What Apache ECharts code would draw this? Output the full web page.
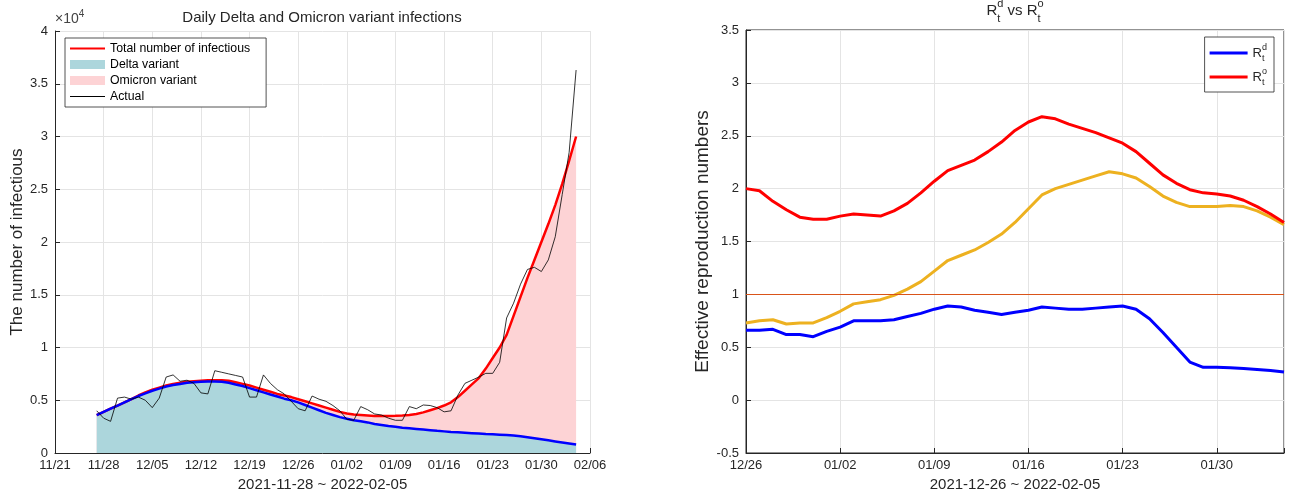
<!DOCTYPE html>
<html><head><meta charset="utf-8">
<script src="https://cdn.jsdelivr.net/npm/echarts@6/dist/echarts.min.js"></script>
<style>html,body{margin:0;padding:0;background:#fff}#c{width:1290px;height:494px}</style>
</head><body><div id="c"></div>
<script>
// ---------- Left chart data (days after 11/21) ----------
const leftTicks = ['11/21','11/28','12/05','12/12','12/19','12/26','01/02','01/09','01/16','01/23','01/30','02/06'];
const leftStartDay = 6;
const totalInfectious = [3600,3900,4200,4500,4800,5100,5450,5750,6000,6200,6400,6550,6650,6750,6800,6850,6900,6900,6900,6850,
  6700,6550,6400,6200,6000,5800,5600,5450,5300,5100,4900,4700,4500,4300,4100,3900,3750,3650,3600,3550,
  3500,3500,3500,3520,3550,3600,3700,3850,4050,4250,4500,4800,5300,5900,6500,7100,8000,9000,10000,11200,
  13000,14800,16600,18300,20000,21700,23500,25500,27700,30000];
const deltaVariant = [3600,3900,4200,4500,4800,5100,5400,5650,5900,6100,6300,6450,6550,6650,6700,6750,6780,6780,6750,6650,
  6500,6350,6150,5950,5750,5550,5350,5150,5000,4800,4550,4300,4050,3800,3600,3400,3250,3100,3000,2900,
  2750,2650,2550,2480,2400,2340,2280,2220,2160,2100,2050,2000,1960,1920,1880,1840,1800,1770,1740,1700,
  1650,1580,1500,1400,1300,1200,1100,1000,900,800];
const actualCases = [4000,3300,3000,5200,5300,5100,5300,5000,4300,5200,7200,7400,6800,6900,6600,5700,5600,7800,7650,7500,
  7350,7200,5300,5300,7400,6600,6000,5600,4900,4200,4000,5400,5100,4900,4500,4000,3200,3100,4400,4100,
  3700,3600,3300,3100,3100,4400,4200,4550,4500,4300,3900,4000,5500,6600,6900,7200,7550,7550,8600,12800,
  14200,16000,17400,17600,17200,18300,20500,24500,28500,36300];

// ---------- Right chart data (days after 12/26) ----------
const rightTicks = ['12/26','01/02','01/09','01/16','01/23','01/30'];
const rtDelta = [0.66,0.66,0.67,0.62,0.62,0.60,0.65,0.69,0.75,0.75,0.75,0.76,0.79,0.82,0.86,0.89,0.88,0.85,0.83,0.81,
  0.83,0.85,0.88,0.87,0.86,0.86,0.87,0.88,0.89,0.86,0.77,0.64,0.50,0.36,0.31,0.31,0.305,0.30,0.29,0.28,0.265];
const rtOmicron = [2.00,1.98,1.88,1.80,1.73,1.71,1.71,1.74,1.76,1.75,1.74,1.79,1.86,1.96,2.07,2.17,2.22,2.27,2.35,2.44,
  2.55,2.63,2.68,2.66,2.61,2.57,2.53,2.48,2.43,2.35,2.24,2.13,2.05,1.99,1.96,1.95,1.93,1.89,1.83,1.76,1.68];
const rtCombined = [0.73,0.75,0.76,0.72,0.73,0.73,0.78,0.84,0.91,0.93,0.95,0.99,1.05,1.12,1.22,1.32,1.37,1.42,1.49,1.57,
  1.68,1.81,1.94,2.00,2.04,2.08,2.12,2.16,2.14,2.10,2.02,1.93,1.87,1.83,1.83,1.83,1.84,1.83,1.79,1.73,1.66];
const threshold = [1];

const font = '"Liberation Sans", Arial, Helvetica, sans-serif';
const ink = '#262626';
const gridColor = '#e4e4e4';
const teal = '#acd6dc';
const pink = '#fdd3d5';
const xy = (start, arr) => arr.map((v, i) => [start + i, v]);

const chart = echarts.init(document.getElementById('c'));
const subSup = (sz, lh, shift) => ({
  sub: {fontSize: sz, lineHeight: lh, verticalAlign: 'bottom', fontFamily: font, color: ink},
  sup: {fontSize: sz, lineHeight: lh, verticalAlign: 'top', fontFamily: font, color: ink, padding: [0, 0, 0, -shift]}
});

const commonX = {
  type: 'value',
  axisLine: {show: true, onZero: false, lineStyle: {color: ink, width: 1}},
  axisTick: {show: true, inside: true, length: 5, lineStyle: {color: ink}},
  splitLine: {show: true, lineStyle: {color: gridColor, width: 1}},
  nameLocation: 'middle',
  nameTextStyle: {fontSize: 15, color: ink, fontFamily: font}
};
const commonY = {
  type: 'value',
  axisLine: {show: true, onZero: false, lineStyle: {color: ink, width: 1}},
  axisTick: {show: true, inside: true, length: 5, lineStyle: {color: ink}},
  splitLine: {show: true, lineStyle: {color: gridColor, width: 1}},
  nameLocation: 'middle'
};

chart.setOption({
  animation: false,
  backgroundColor: '#fff',
  textStyle: {fontFamily: font},
  title: [
    {text: 'Daily Delta and Omicron variant infections', left: 322, top: 10, padding: 0, textAlign: 'center',
      textStyle: {fontSize: 15, fontWeight: 'normal', color: ink, fontFamily: font}},
    {text: 'R{sub|t}{sup|d} vs R{sub|t}{sup|o}', left: 1015, top: -2, padding: 0, textAlign: 'center',
      textStyle: {fontSize: 15, fontWeight: 'normal', color: ink, fontFamily: font, lineHeight: 26, rich: subSup(11, 12, 3.1)}},
    {text: '×10{sup|4}', left: 55, top: 9, padding: 0,
      textStyle: {fontSize: 14, fontWeight: 'normal', color: '#444', fontFamily: font, lineHeight: 20,
        rich: {sup: {fontSize: 10, lineHeight: 11, verticalAlign: 'top', color: '#444', fontFamily: font}}}}
  ],
  legend: [
    {left: 65, top: 38, orient: 'vertical', selectedMode: false, symbolKeepAspect: true,
      data: [{name: 'Total number of infectious', icon: 'path://M0,0h35v2.2h-35z'},
             {name: 'Delta variant', icon: 'rect'},
             {name: 'Omicron variant', icon: 'rect'},
             {name: 'Actual', icon: 'path://M0,0h35v1h-35z'}],
      itemWidth: 35, itemHeight: 9, itemGap: 1, padding: [3, 16, 3, 5],
      itemStyle: {borderWidth: 0},
      borderColor: ink, borderWidth: 0.8, backgroundColor: '#fff', borderRadius: 0,
      textStyle: {fontSize: 12.3, color: '#000', lineHeight: 15, fontFamily: font}},
    {right: 16, top: 37, orient: 'vertical', selectedMode: false, symbolKeepAspect: true,
      data: [{name: 'Rd', icon: 'path://M0,0h38v3h-38z'}, {name: 'Ro', icon: 'path://M0,0h38v3h-38z'}],
      formatter: n => n === 'Rd' ? 'R{sub|t}{sup|d}' : 'R{sub|t}{sup|o}',
      itemWidth: 38, itemHeight: 10, itemGap: 4, padding: [6, 7, 5, 5],
      itemStyle: {borderWidth: 0},
      borderColor: ink, borderWidth: 0.8, backgroundColor: '#fff', borderRadius: 0,
      textStyle: {fontSize: 13, color: ink, lineHeight: 20, fontFamily: font, rich: subSup(9, 10, 2.5)}}
  ],
  grid: [
    {left: 55, right: 700, top: 31, bottom: 41, outerBoundsMode: 'none', containLabel: false},
    {left: 746, right: 6, top: 30, bottom: 41, outerBoundsMode: 'none', containLabel: false,
      show: true, borderColor: ink, borderWidth: 1, backgroundColor: 'transparent'}
  ],
  xAxis: [
    Object.assign({}, commonX, {gridIndex: 0, min: 0, max: 77, interval: 7,
      name: '2021-11-28 ~ 2022-02-05', nameGap: 22,
      axisLabel: {margin: 6, fontSize: 13, color: ink, fontFamily: font, showMinLabel: true, showMaxLabel: true,
        formatter: v => (v % 7 === 0 ? (leftTicks[v / 7] || '') : '')}}),
    Object.assign({}, commonX, {gridIndex: 1, min: 0, max: 40, interval: 7,
      name: '2021-12-26 ~ 2022-02-05', nameGap: 22,
      axisLabel: {margin: 6, fontSize: 13, color: ink, fontFamily: font, showMinLabel: true, showMaxLabel: true,
        formatter: v => (v % 7 === 0 ? (rightTicks[v / 7] || '') : '')}})
  ],
  yAxis: [
    Object.assign({}, commonY, {gridIndex: 0, min: 0, max: 40000, interval: 5000,
      name: 'The number of infectious', nameGap: 20,
      nameTextStyle: {fontSize: 17, color: ink, fontFamily: font},
      axisLabel: {margin: 7, fontSize: 13, color: ink, fontFamily: font, formatter: v => String(v / 10000)}}),
    Object.assign({}, commonY, {gridIndex: 1, min: -0.5, max: 3.5, interval: 0.5,
      name: 'Effective reproduction numbers', nameGap: 21,
      nameTextStyle: {fontSize: 19, color: ink, fontFamily: font},
      axisLabel: {margin: 7, fontSize: 13, color: ink, fontFamily: font}})
  ],
  series: [
    {name: 'Omicron variant', type: 'line', xAxisIndex: 0, yAxisIndex: 0, data: xy(leftStartDay, totalInfectious),
      symbol: 'none', silent: true, z: 1, itemStyle: {color: pink}, lineStyle: {width: 0, color: pink},
      areaStyle: {color: pink, opacity: 1}},
    {name: 'Delta variant', type: 'line', xAxisIndex: 0, yAxisIndex: 0, data: xy(leftStartDay, deltaVariant),
      symbol: 'none', silent: true, z: 2, itemStyle: {color: teal}, lineStyle: {width: 0, color: teal},
      areaStyle: {color: teal, opacity: 1}},
    {name: 'Total number of infectious', type: 'line', xAxisIndex: 0, yAxisIndex: 0, data: xy(leftStartDay, totalInfectious),
      symbol: 'none', silent: true, z: 3, itemStyle: {color: '#ff0000'}, lineStyle: {width: 2.5, color: '#ff0000'}},
    {name: 'Delta line', type: 'line', xAxisIndex: 0, yAxisIndex: 0, data: xy(leftStartDay, deltaVariant),
      symbol: 'none', silent: true, z: 4, itemStyle: {color: '#0000ff'}, lineStyle: {width: 2.5, color: '#0000ff'}},
    {name: 'Actual', type: 'line', xAxisIndex: 0, yAxisIndex: 0, data: xy(leftStartDay, actualCases),
      symbol: 'none', silent: true, z: 5, itemStyle: {color: '#000'}, lineStyle: {width: 0.8, color: '#000'}},
    {name: 'Rt', type: 'line', xAxisIndex: 1, yAxisIndex: 1, data: xy(0, rtCombined),
      symbol: 'none', silent: true, z: 3, itemStyle: {color: '#EDB120'}, lineStyle: {width: 3, color: '#EDB120'},
      markLine: {silent: true, symbol: 'none', label: {show: false}, animation: false,
        lineStyle: {color: '#D95319', width: 1, type: 'solid'},
        data: threshold.map(v => ({yAxis: v}))}},
    {name: 'Ro', type: 'line', xAxisIndex: 1, yAxisIndex: 1, data: xy(0, rtOmicron),
      symbol: 'none', silent: true, z: 4, itemStyle: {color: '#ff0000'}, lineStyle: {width: 3, color: '#ff0000'}},
    {name: 'Rd', type: 'line', xAxisIndex: 1, yAxisIndex: 1, data: xy(0, rtDelta),
      symbol: 'none', silent: true, z: 5, itemStyle: {color: '#0000ff'}, lineStyle: {width: 3, color: '#0000ff'}}
  ]
});
</script></body></html>
